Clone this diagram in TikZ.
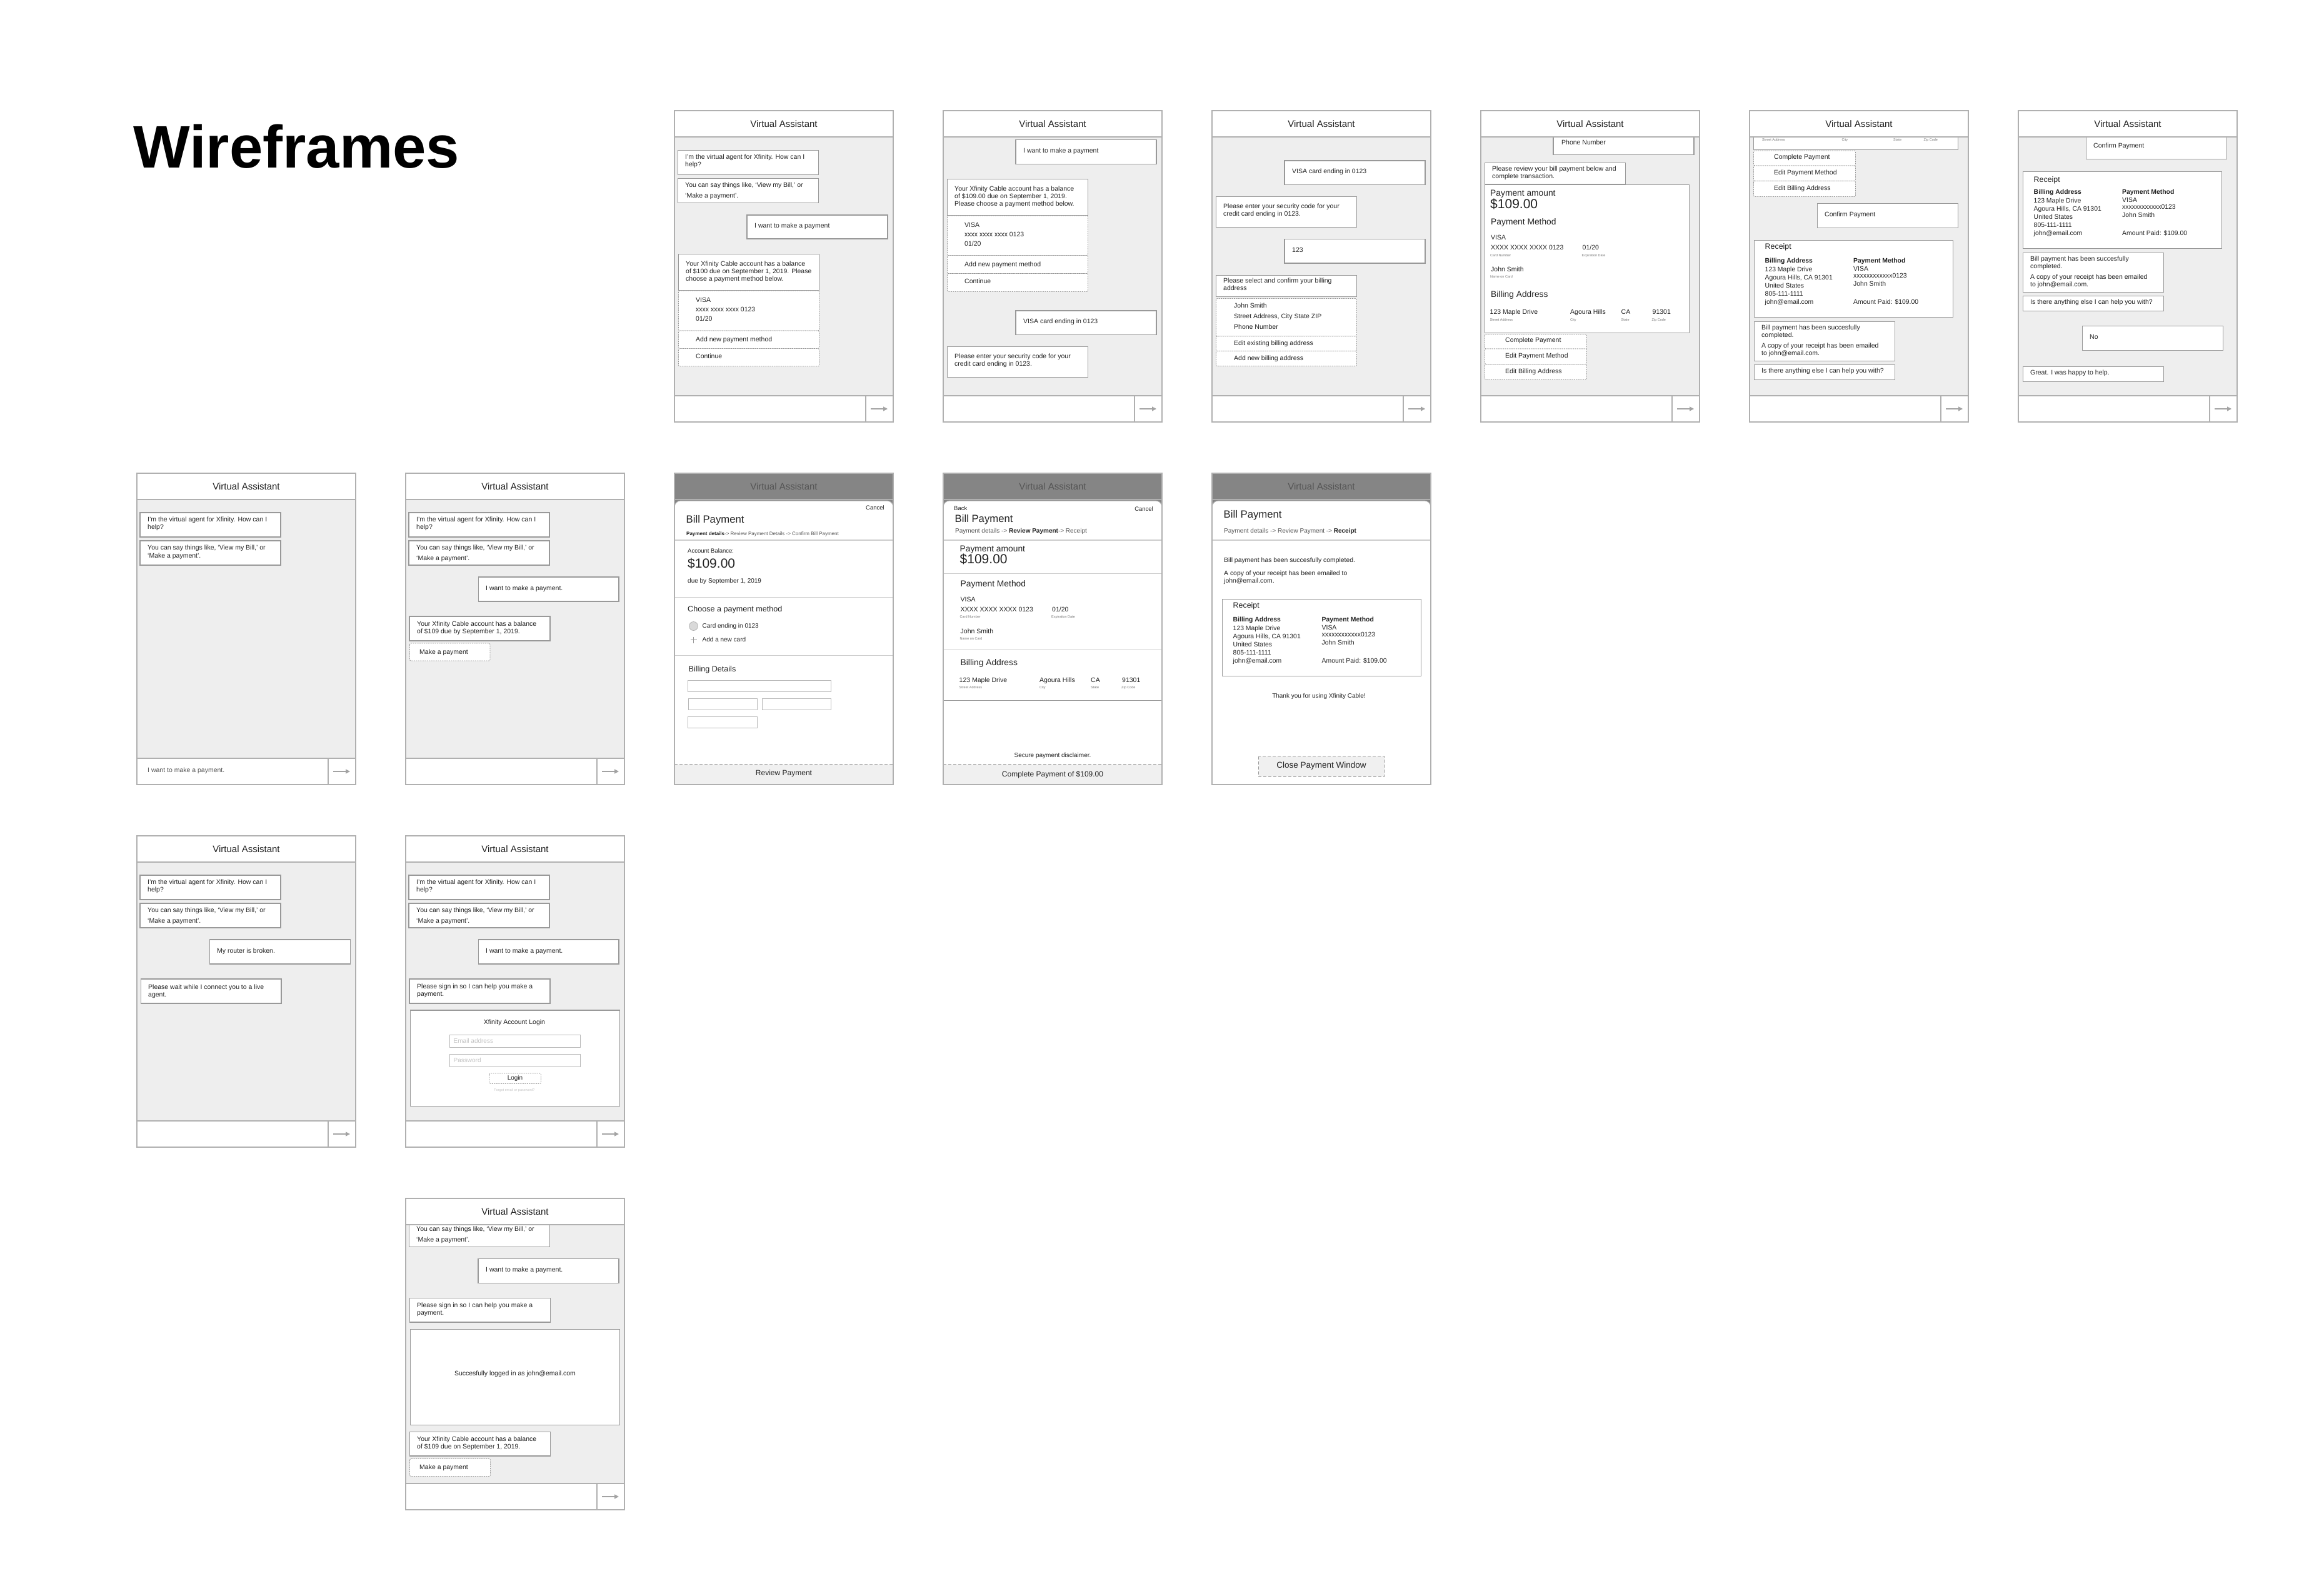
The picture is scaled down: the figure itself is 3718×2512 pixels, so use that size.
\documentclass[tikz,border=0pt]{standalone}
\usepackage{fontspec}
\setmainfont{Liberation Sans}
\usetikzlibrary{arrows.meta}
\definecolor{frm}{HTML}{B0B0B0}
\definecolor{bgc}{HTML}{EEEEEE}
\definecolor{bdr}{HTML}{999999}
\definecolor{txc}{HTML}{222222}
\definecolor{hdr}{HTML}{858585}
\definecolor{hdt}{HTML}{555555}
\definecolor{lbl}{HTML}{777777}
\definecolor{sepc}{HTML}{CCCCCC}
\definecolor{btn}{HTML}{F0F0F0}
\definecolor{phc}{HTML}{C4C4C4}
\newcounter{nd}
\newcommand\fsz[1]{\fontsize{#1}{#1}\selectfont}
\newcommand\TX[4][]{\stepcounter{nd}\node[txt,#1] (n\arabic{nd}) at (#2,#3) {#4};}
\newcommand\BX[4]{\draw[bub] (#1,#2) rectangle (#3,#4);}
\newcommand\DX[4]{\draw[dbox] (#1,#2) rectangle (#3,#4);}
\newcommand\SL[3]{\TX[font=\fsz{5.5},text=lbl]{#1}{#2}{#3}}
\newcommand\chatscreen[4]{%
\begin{scope}[shift={(#1,#2)}]
\fill[bgc] (0,42) rectangle (350,456);
#3
\draw[frame,fill=white] (0,0) rectangle (350,42);
\TX[anchor=center,font=\fsz{15}]{175}{21}{Virtual Assistant}
\draw[frame,fill=white] (0,456) rectangle (350,498);
\draw[frame] (306,456) -- (306,498);
\draw[arr] (314,477) -- (341,477);
#4
\draw[frame] (0,0) rectangle (350,498);
\end{scope}}
\newcommand\modalscreen[3]{%
\begin{scope}[shift={(#1,#2)}]
\fill[white] (0,0) rectangle (350,498);
\fill[hdr] (0,0) rectangle (350,56);
\draw[frame] (0,42) -- (350,42);
\TX[anchor=center,font=\fsz{15},text=hdt]{175}{21}{Virtual Assistant}
\draw[draw=frm,line width=1pt,fill=white,rounded corners=10pt] (0,498) -- (0,44) -- (350,44) -- (350,498);
#3
\draw[frame] (0,0) rectangle (350,498);
\end{scope}}
\tikzset{
 x=1pt,y=-1pt,
 txt/.style={anchor=mid west,inner sep=0pt,text=txc,font=\fsz{10.5}},
 frame/.style={draw=frm,line width=1.3pt},
 bub/.style={draw=bdr,fill=white,line width=1.1pt},
 dbox/.style={draw=bdr,fill=white,line width=0.8pt,dash pattern=on 2pt off 1.5pt,rounded corners=2pt},
 bbtn/.style={draw=bdr,fill=btn,line width=0.9pt,dash pattern=on 5pt off 3pt},
 sepl/.style={draw=sepc,line width=1.6pt},
 field/.style={draw=bdr!70,fill=white,line width=0.8pt},
 arr/.style={draw=bdr!90,line width=1.2pt,-{Triangle[length=7pt,width=7pt]}},
 hd/.style={font=\fsz{13.8}},
 big/.style={font=\fsz{21}},
}
\begin{document}
\begin{tikzpicture}
\useasboundingbox (0,0) rectangle (3718,2512);
\fill[white] (0,0) rectangle (3718,2512);
\TX[anchor=base west,font=\fsz{96}\bfseries,text=black]{213}{268}{Wireframes}

% ---------------- Row 1 ----------------
\chatscreen{1079}{177}{%
\BX{5.5}{63.5}{230.5}{102.5}
\TX{17}{75}{I’m the virtual agent for Xfinity. How can I}
\TX{17}{87}{help?}
\BX{5.5}{108.5}{230.5}{147.5}
\TX{17}{120}{You can say things like, ‘View my Bill,’ or}
\TX{17}{137}{‘Make a payment’.}
\BX{116}{167}{341}{205}
\TX{128}{185}{I want to make a payment}
\BX{6.5}{229.5}{231.5}{287.5}
\TX{18}{246}{Your Xfinity Cable account has a balance}
\TX{18}{258}{of \$100 due on September 1, 2019. Please}
\TX{18}{270}{choose a payment method below.}
\DX{6.5}{288}{231.5}{352}
\TX{34}{304}{VISA}
\TX{34}{319}{xxxx xxxx xxxx 0123}
\TX{34}{334}{01/20}
\DX{6.5}{352}{231.5}{380.5}
\TX{34}{366.5}{Add new payment method}
\DX{6.5}{380.5}{231.5}{409}
\TX{34}{393.5}{Continue}
}{}

\chatscreen{1509}{177}{%
\BX{116}{46.5}{341}{85.5}
\TX{128}{65}{I want to make a payment}
\BX{6.5}{109.5}{231.5}{167.5}
\TX{18}{126}{Your Xfinity Cable account has a balance}
\TX{18}{138}{of \$109.00 due on September 1, 2019.}
\TX{18}{150}{Please choose a payment method below.}
\DX{6.5}{168}{231.5}{231.5}
\TX{34}{184}{VISA}
\TX{34}{199}{xxxx xxxx xxxx 0123}
\TX{34}{214}{01/20}
\DX{6.5}{231.5}{231.5}{260.5}
\TX{34}{247}{Add new payment method}
\DX{6.5}{260.5}{231.5}{289.5}
\TX{34}{273.5}{Continue}
\BX{116}{320}{341}{358.5}
\TX{128}{338}{VISA card ending in 0123}
\BX{6.5}{377.5}{231.5}{426.5}
\TX{18}{394}{Please enter your security code for your}
\TX{18}{406}{credit card ending in 0123.}
}{}

\chatscreen{1939}{177}{%
\BX{116}{80}{341}{118.5}
\TX{128}{98}{VISA card ending in 0123}
\BX{6.5}{137.5}{231.5}{186.5}
\TX{18}{154}{Please enter your security code for your}
\TX{18}{166}{credit card ending in 0123.}
\BX{116}{205.5}{341}{244}
\TX{128}{223.5}{123}
\BX{6.5}{263.5}{231.5}{297.5}
\TX{18}{273}{Please select and confirm your billing}
\TX{18}{285}{address}
\DX{6.5}{300.5}{231.5}{361}
\TX{35}{312.5}{John Smith}
\TX{35}{329.5}{Street Address, City State ZIP}
\TX{35}{346.5}{Phone Number}
\DX{6.5}{361}{231.5}{384.5}
\TX{35}{373}{Edit existing billing address}
\DX{6.5}{384.5}{231.5}{408.5}
\TX{35}{397}{Add new billing address}
}{}

\chatscreen{2369}{177}{%
\BX{116}{38}{341}{70.5}
\TX{129}{52}{Phone Number}
\BX{6.5}{83.5}{231.5}{117.5}
\TX{18}{94}{Please review your bill payment below and}
\TX{18}{106}{complete transaction.}
\BX{6.5}{118.5}{333.5}{355.5}
\TX[hd]{15}{134}{Payment amount}
\TX[big]{15}{153.5}{\$109.00}
\TX[hd]{16}{180}{Payment Method}
\TX{16}{204}{VISA}
\TX{16}{220}{XXXX XXXX XXXX 0123}
\SL{15}{230.5}{Card Number}
\TX{162.5}{220}{01/20}
\SL{161.5}{230.5}{Expiration Date}
\TX{16}{255}{John Smith}
\SL{15}{265}{Name on Card}
\TX[hd]{16}{296}{Billing Address}
\TX{14.5}{323}{123 Maple Drive}
\SL{14.5}{333.5}{Street Address}
\TX{143}{323}{Agoura Hills}
\SL{143}{333.5}{City}
\TX{224.5}{323}{CA}
\SL{224.5}{333.5}{State}
\TX{274.5}{323}{91301}
\SL{273.5}{333.5}{Zip Code}
\DX{6.5}{357.5}{169.5}{381}
\TX{39}{368}{Complete Payment}
\DX{6.5}{381}{169.5}{405.5}
\TX{39}{393}{Edit Payment Method}
\DX{6.5}{405.5}{169.5}{430.5}
\TX{39}{418}{Edit Billing Address}
}{}

\chatscreen{2799}{177}{%
\BX{6.5}{36}{333.5}{62.5}
\SL{20}{46}{Street Address}
\SL{147.5}{46}{City}
\SL{230}{46}{State}
\SL{278.5}{46}{Zip Code}
\DX{6.5}{64}{169.5}{88}
\TX{39}{75}{Complete Payment}
\DX{6.5}{88}{169.5}{112.5}
\TX{39}{100}{Edit Payment Method}
\DX{6.5}{112.5}{169.5}{137.5}
\TX{39}{125}{Edit Billing Address}
\BX{108.5}{148.5}{333.5}{187.5}
\TX{120}{167}{Confirm Payment}
\BX{7.5}{207.5}{325.5}{330.5}
\TX[font=\fsz{12.4}]{24.5}{219}{Receipt}
\TX[font=\fsz{10.4}\bfseries]{24.5}{241}{Billing Address}
\TX[font=\fsz{10.4}]{24.5}{255}{123 Maple Drive}
\TX[font=\fsz{10.4}]{24.5}{268}{Agoura Hills, CA 91301}
\TX[font=\fsz{10.4}]{24.5}{281}{United States}
\TX[font=\fsz{10.4}]{24.5}{294}{805-111-1111}
\TX[font=\fsz{10.4}]{24.5}{307}{john@email.com}
\TX[font=\fsz{10.4}\bfseries]{166}{241}{Payment Method}
\TX[font=\fsz{10.4}]{166}{253.5}{VISA}
\TX[font=\fsz{10.4}]{166}{265}{xxxxxxxxxxxx0123}
\TX[font=\fsz{10.4}]{166}{278}{John Smith}
\TX[font=\fsz{10.4}]{166}{307}{Amount Paid: \$109.00}
\BX{7.5}{337.5}{232.5}{400.5}
\TX{19}{348}{Bill payment has been succesfully}
\TX{19}{360}{completed.}
\TX{19}{377}{A copy of your receipt has been emailed}
\TX{19}{389}{to john@email.com.}
\BX{7.5}{406.5}{232.5}{430.5}
\TX{19}{417}{Is there anything else I can help you with?}
}{}

\chatscreen{3229}{177}{%
\BX{108.5}{36}{333.5}{77.5}
\TX{120}{57}{Confirm Payment}
\BX{7.5}{97.5}{325.5}{220.5}
\TX[font=\fsz{12.4}]{24.5}{112}{Receipt}
\TX[font=\fsz{10.4}\bfseries]{24.5}{131}{Billing Address}
\TX[font=\fsz{10.4}]{24.5}{145}{123 Maple Drive}
\TX[font=\fsz{10.4}]{24.5}{158}{Agoura Hills, CA 91301}
\TX[font=\fsz{10.4}]{24.5}{171}{United States}
\TX[font=\fsz{10.4}]{24.5}{184}{805-111-1111}
\TX[font=\fsz{10.4}]{24.5}{197}{john@email.com}
\TX[font=\fsz{10.4}\bfseries]{166}{131}{Payment Method}
\TX[font=\fsz{10.4}]{166}{144}{VISA}
\TX[font=\fsz{10.4}]{166}{155}{xxxxxxxxxxxx0123}
\TX[font=\fsz{10.4}]{166}{168}{John Smith}
\TX[font=\fsz{10.4}]{166}{197}{Amount Paid: \$109.00}
\BX{7.5}{227.5}{232.5}{290.5}
\TX{19}{238}{Bill payment has been succesfully}
\TX{19}{250}{completed.}
\TX{19}{267}{A copy of your receipt has been emailed}
\TX{19}{279}{to john@email.com.}
\BX{7.5}{296.5}{232.5}{320.5}
\TX{19}{307}{Is there anything else I can help you with?}
\BX{102.5}{344.5}{327.5}{383.5}
\TX{114}{363}{No}
\BX{7.5}{409.5}{232.5}{433.5}
\TX{19}{420}{Great. I was happy to help.}
}{}

% ---------------- Row 2 ----------------
\chatscreen{219}{757}{%
\BX{5}{63}{230}{102}
\TX{17}{75}{I’m the virtual agent for Xfinity. How can I}
\TX{17}{87}{help?}
\BX{5}{108}{230}{147}
\TX{17}{120}{You can say things like, ‘View my Bill,’ or}
\TX{17}{133}{‘Make a payment’.}
}{\TX[text=hdt]{17}{476}{I want to make a payment.}}

\chatscreen{649}{757}{%
\BX{5}{63}{230}{102}
\TX{17}{75}{I’m the virtual agent for Xfinity. How can I}
\TX{17}{87}{help?}
\BX{5}{108}{230}{147}
\TX{17}{120}{You can say things like, ‘View my Bill,’ or}
\TX{17}{137}{‘Make a payment’.}
\BX{116.5}{166}{341}{205}
\TX{128}{185}{I want to make a payment.}
\BX{6}{229}{231}{268}
\TX{18}{242}{Your Xfinity Cable account has a balance}
\TX{18}{254}{of \$109 due by September 1, 2019.}
\DX{6.5}{272}{135}{300}
\TX{22}{287}{Make a payment}
}{}

\modalscreen{1079}{757}{%
\TX[anchor=mid east,font=\fsz{9.5}]{336}{55.5}{Cancel}
\TX[font=\fsz{16.7}]{18.5}{76.5}{Bill Payment}
\TX[font=\fsz{8}]{19}{96.5}{\textbf{Payment details}\textcolor{hdt}{ -> Review Payment Details -> Confirm Bill Payment}}
\draw[sepl] (0,107) -- (350,107);
\TX[font=\fsz{9.5}]{21}{124.5}{Account Balance:}
\TX[big]{21}{149}{\$109.00}
\TX[font=\fsz{10}]{21}{173}{due by September 1, 2019}
\draw[sepl] (0,198.5) -- (350,198.5);
\TX[font=\fsz{12.6}]{21}{218.5}{Choose a payment method}
\draw[draw=bdr!80,fill=black!15,line width=0.7pt] (30.5,244.5) circle[radius=7];
\TX[font=\fsz{10}]{44.5}{244.5}{Card ending in 0123}
\draw[draw=bdr,line width=0.6pt] (25.5,266.5) -- (35.5,266.5) (30.5,261.5) -- (30.5,271.5);
\TX[font=\fsz{10}]{44.5}{266.5}{Add a new card}
\draw[sepl] (0,291.5) -- (350,291.5);
\TX[font=\fsz{12.6}]{22.5}{314.5}{Billing Details}
\draw[field] (21.5,331.5) rectangle (250.5,349.5);
\draw[field] (22,360.5) rectangle (132.5,378.5);
\draw[field] (140,360.5) rectangle (250.5,378.5);
\draw[field] (21.5,389.5) rectangle (132.5,407.5);
\draw[bbtn] (0,465.5) rectangle (350,498);
\TX[anchor=center,font=\fsz{12}]{175}{480.5}{Review Payment}
}

\modalscreen{1509}{757}{%
\TX[font=\fsz{9.5}]{17}{56.5}{Back}
\TX[anchor=mid east,font=\fsz{9.5}]{336}{57.5}{Cancel}
\TX[font=\fsz{16.7}]{18.5}{75.5}{Bill Payment}
\TX[font=\fsz{10}]{19}{92.5}{\textcolor{hdt}{Payment details -> }\textbf{Review Payment}\textcolor{hdt}{ -> Receipt}}
\draw[sepl] (0,107) -- (350,107);
\TX[hd]{26.5}{122.5}{Payment amount}
\TX[big]{26.5}{142}{\$109.00}
\draw[sepl] (0,160.5) -- (350,160.5);
\TX[hd]{27.5}{178.5}{Payment Method}
\TX{27.5}{202.5}{VISA}
\TX{27.5}{218.5}{XXXX XXXX XXXX 0123}
\SL{26.5}{229}{Card Number}
\TX{174}{218.5}{01/20}
\SL{173}{229}{Expiration Date}
\TX{27.5}{253.5}{John Smith}
\SL{26.5}{263.5}{Name on Card}
\draw[sepl] (0,282.5) -- (350,282.5);
\TX[hd]{27.5}{304.5}{Billing Address}
\TX{25.5}{331.5}{123 Maple Drive}
\SL{25.5}{342}{Street Address}
\TX{154}{331.5}{Agoura Hills}
\SL{154}{342}{City}
\TX{236}{331.5}{CA}
\SL{236}{342}{State}
\TX{286}{331.5}{91301}
\SL{285}{342}{Zip Code}
\draw[draw=bdr,line width=0.8pt] (0,363) -- (350,363);
\TX[anchor=center,font=\fsz{10}]{175}{451.5}{Secure payment disclaimer.}
\draw[bbtn] (0,465.5) rectangle (350,498);
\TX[anchor=center,font=\fsz{12}]{175}{482}{Complete Payment of \$109.00}
}

\modalscreen{1939}{757}{%
\TX[font=\fsz{16.7}]{18.5}{68.5}{Bill Payment}
\TX[font=\fsz{10}]{19}{92.5}{\textcolor{hdt}{Payment details -> Review Payment -> }\textbf{Receipt}}
\draw[sepl] (0,107) -- (350,107);
\TX[font=\fsz{10.4}]{19}{139.5}{Bill payment has been succesfully completed.}
\TX[font=\fsz{10.4}]{19}{160.5}{A copy of your receipt has been emailed to}
\TX[font=\fsz{10.4}]{19}{173}{john@email.com.}
\BX{16.5}{201.5}{334.5}{324.5}
\TX[font=\fsz{12.4}]{33.5}{212.5}{Receipt}
\TX[font=\fsz{10.4}\bfseries]{33.5}{234.5}{Billing Address}
\TX[font=\fsz{10.4}]{33.5}{248.5}{123 Maple Drive}
\TX[font=\fsz{10.4}]{33.5}{261.5}{Agoura Hills, CA 91301}
\TX[font=\fsz{10.4}]{33.5}{274.5}{United States}
\TX[font=\fsz{10.4}]{33.5}{287.5}{805-111-1111}
\TX[font=\fsz{10.4}]{33.5}{300.5}{john@email.com}
\TX[font=\fsz{10.4}\bfseries]{175.5}{234.5}{Payment Method}
\TX[font=\fsz{10.4}]{175.5}{247.5}{VISA}
\TX[font=\fsz{10.4}]{175.5}{258.5}{xxxxxxxxxxxx0123}
\TX[font=\fsz{10.4}]{175.5}{271.5}{John Smith}
\TX[font=\fsz{10.4}]{175.5}{300.5}{Amount Paid: \$109.00}
\TX[anchor=center,font=\fsz{10}]{171}{356.5}{Thank you for using Xfinity Cable!}
\draw[bbtn] (74.5,452.5) rectangle (275.5,485);
\TX[anchor=center,font=\fsz{13.5}]{175}{467.5}{Close Payment Window}
}

% ---------------- Row 3 ----------------
\chatscreen{219}{1337}{%
\BX{5}{63}{230}{102}
\TX{17}{75}{I’m the virtual agent for Xfinity. How can I}
\TX{17}{87}{help?}
\BX{5}{108}{230}{147}
\TX{17}{120}{You can say things like, ‘View my Bill,’ or}
\TX{17}{137}{‘Make a payment’.}
\BX{116.5}{166}{341.5}{205}
\TX{128}{185}{My router is broken.}
\BX{6.5}{229}{231}{268}
\TX{18}{243}{Please wait while I connect you to a live}
\TX{18}{255}{agent.}
}{}

\chatscreen{649}{1337}{%
\BX{5}{63}{230}{102}
\TX{17}{75}{I’m the virtual agent for Xfinity. How can I}
\TX{17}{87}{help?}
\BX{5}{108}{230}{147}
\TX{17}{120}{You can say things like, ‘View my Bill,’ or}
\TX{17}{137}{‘Make a payment’.}
\BX{116.5}{166}{341}{205}
\TX{128}{185}{I want to make a payment.}
\BX{6}{229}{231}{268}
\TX{18}{242}{Please sign in so I can help you make a}
\TX{18}{254}{payment.}
\BX{7.5}{279}{342.5}{432.5}
\TX[anchor=center]{174}{298.5}{Xfinity Account Login}
\draw[field] (70,318.5) rectangle (279.5,338.5);
\TX[font=\fsz{10},text=phc]{76.5}{328.5}{Email address}
\draw[field] (70,349.5) rectangle (279.5,369.5);
\TX[font=\fsz{10},text=phc]{76.5}{359.5}{Password}
\DX{134}{380}{216.5}{396.5}
\TX[anchor=center,font=\fsz{10}]{175}{388}{Login}
\TX[anchor=center,font=\fsz{5.5},text=phc]{174}{407.5}{Forgot email or password?}
}{}

% ---------------- Row 4 ----------------
\chatscreen{649}{1917}{%
\BX{5.5}{36}{230.5}{77.5}
\TX{17}{49.5}{You can say things like, ‘View my Bill,’ or}
\TX{17}{66.5}{‘Make a payment’.}
\BX{116}{96.5}{341}{135.5}
\TX{128}{114.5}{I want to make a payment.}
\BX{6.5}{159.5}{231.5}{198}
\TX{18}{171.5}{Please sign in so I can help you make a}
\TX{18}{183.5}{payment.}
\BX{7.5}{209.5}{342.5}{362.5}
\TX[anchor=center]{175}{280.5}{Succesfully logged in as john@email.com}
\BX{6.5}{373.5}{231.5}{412}
\TX{18}{385.5}{Your Xfinity Cable account has a balance}
\TX{18}{397.5}{of \$109 due on September 1, 2019.}
\DX{6.5}{416.5}{135.5}{444.5}
\TX{22}{430.5}{Make a payment}
}{}
\end{tikzpicture}
\end{document}
